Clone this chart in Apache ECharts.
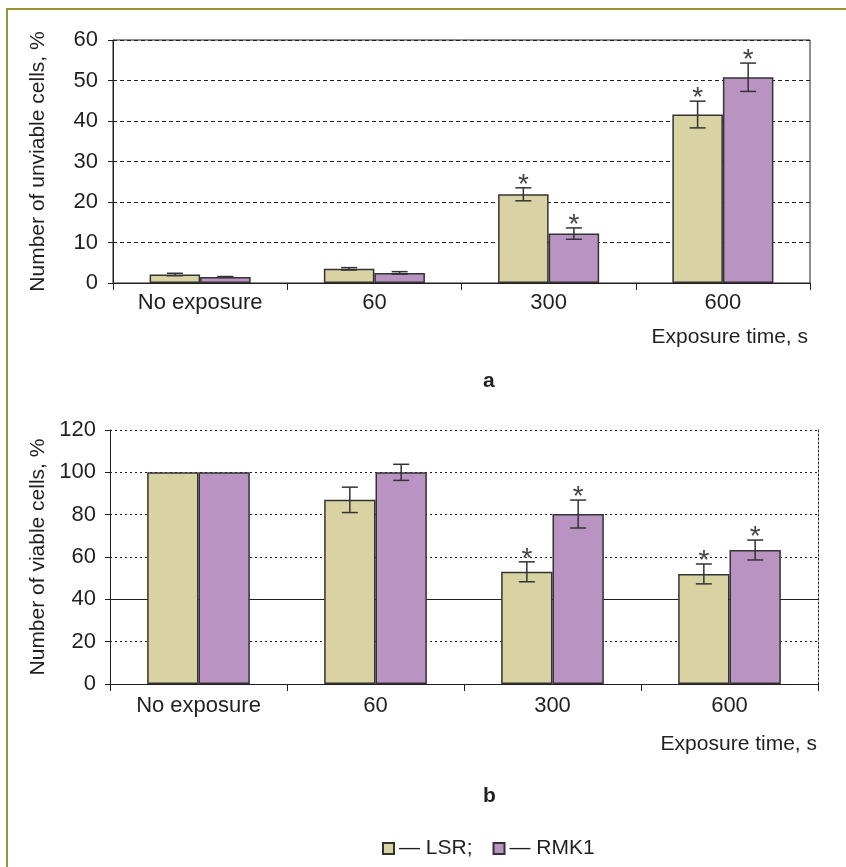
<!DOCTYPE html>
<html>
<head>
<meta charset="utf-8">
<script src="https://cdn.jsdelivr.net/npm/echarts@6/dist/echarts.min.js"></script>
<style>
  html, body { margin: 0; padding: 0; background: #fff; }
  #main { width: 846px; height: 867px; }
</style>
</head>
<body>
<div id="main"></div>
<script>
// exposure groups
const categories = ['No exposure', '60', '300', '600'];

// panel a: unviable cells, %
const unviableLSR = [2.1, 3.5, 21.9, 41.6];
const unviableLSRErr = [0.3, 0.3, 1.6, 3.3];
const unviableRMK = [1.5, 2.5, 12.2, 50.8];
const unviableRMKErr = [0.1, 0.3, 1.4, 3.5];

// panel b: viable cells, %
const viableLSR = [100, 87, 53, 52];
const viableLSRErr = [0, 6, 4.7, 4.7];
const viableRMK = [100, 100, 80.3, 63.3];
const viableRMKErr = [0, 3.8, 6.6, 4.7];

// significance stars (same groups in both panels)
const starred = [0, 0, 1, 1];

const yTicksA = [0, 60, 10];
const yTicksB = [0, 120, 20];

const ink = '#231f20';
const font = 'Liberation Sans, Arial, sans-serif';
const fs = 21;
const colLSR = '#d9d3a4';
const colRMK = '#b994c2';
const gapPct = 42;

const chart = echarts.init(document.getElementById('main'));

function errSeries(idx, vals, errs, side) {
	return {
		type: 'custom',
		xAxisIndex: idx,
		yAxisIndex: idx,
		z: 4,
		silent: true,
		data: vals.map((v, i) => [i, v - errs[i], v + errs[i], starred[i]]),
		renderItem(params, api) {
			const band = api.size([1, 0])[0];
			const dx = side * band * (1 - gapPct / 100) / 4;
			const hi = api.coord([api.value(0), api.value(2)]);
			const lo = api.coord([api.value(0), api.value(1)]);
			const x = hi[0] + dx;
			const st = { stroke: '#333', lineWidth: 1.5 };
			const kids = [];
			if (api.value(2) > api.value(1)) {
				kids.push({ type: 'line', shape: { x1: x, y1: hi[1], x2: x, y2: lo[1] }, style: st });
				kids.push({ type: 'line', shape: { x1: x - 8, y1: hi[1], x2: x + 8, y2: hi[1] }, style: st });
				kids.push({ type: 'line', shape: { x1: x - 8, y1: lo[1], x2: x + 8, y2: lo[1] }, style: st });
			}
			if (api.value(3)) {
				kids.push({
					type: 'text',
					style: {
						x: x, y: hi[1] - 3, text: '*', fill: '#444',
						font: '28px ' + font, align: 'center', verticalAlign: 'middle'
					}
				});
			}
			return { type: 'group', children: kids };
		}
	};
}

function barSeries(name, idx, vals, color) {
	return {
		name: name,
		type: 'bar',
		xAxisIndex: idx,
		yAxisIndex: idx,
		data: vals,
		barGap: '0%',
		barCategoryGap: gapPct + '%',
		itemStyle: { color: color, borderColor: '#333', borderWidth: 1.5 },
		z: 2
	};
}

const axisLabel = { color: ink, fontSize: 22, fontFamily: font };

const option = {
	animation: false,
	backgroundColor: '#fff',
	graphic: [
		{ type: 'line', shape: { x1: 7, y1: 9, x2: 846, y2: 9 }, style: { stroke: '#9a9436', lineWidth: 2 } },
		{ type: 'line', shape: { x1: 7, y1: 8, x2: 7, y2: 867 }, style: { stroke: '#9a9436', lineWidth: 2 } },
		{ type: 'text', right: 38, top: 327, style: { text: 'Exposure time, s', fill: ink, font: fs + 'px ' + font } },
		{ type: 'text', right: 29, top: 734, style: { text: 'Exposure time, s', fill: ink, font: fs + 'px ' + font } },
		{ type: 'text', left: 483, top: 371, style: { text: 'a', fill: ink, font: 'bold ' + fs + 'px ' + font } },
		{ type: 'text', left: 483, top: 786, style: { text: 'b', fill: ink, font: 'bold ' + fs + 'px ' + font } }
	],
	legend: {
		left: 377,
		top: 833,
		itemWidth: 11,
		itemHeight: 11,
		itemGap: 20,
		icon: 'rect',
		selectedMode: false,
		data: ['LSR', 'RMK1'],
		formatter: n => n === 'LSR' ? '— LSR;' : '— RMK1',
		textStyle: { color: ink, fontSize: fs, fontFamily: font }
	},
	grid: [
		{ left: 113, top: 40, width: 697, height: 243, show: true, borderColor: ink, borderWidth: 1 },
		{ left: 110, top: 430, width: 708, height: 254 }
	],
	xAxis: [
		{
			type: 'category', gridIndex: 0, data: categories,
			axisLine: { lineStyle: { color: ink } },
			axisTick: { show: true, length: 7, lineStyle: { color: ink, width: 1 } },
			axisLabel: Object.assign({ margin: 9 }, axisLabel)
		},
		{
			type: 'category', gridIndex: 1, data: categories,
			axisLine: { lineStyle: { color: ink } },
			axisTick: { show: true, length: 7, lineStyle: { color: ink, width: 1 } },
			axisLabel: Object.assign({ margin: 11 }, axisLabel)
		}
	],
	yAxis: [
		{
			type: 'value', gridIndex: 0, min: yTicksA[0], max: yTicksA[1], interval: yTicksA[2],
			name: 'Number of unviable cells, %', nameLocation: 'middle', nameGap: 64,
			nameTextStyle: { color: ink, fontSize: fs, fontFamily: font },
			axisLine: { show: true, lineStyle: { color: ink } },
			axisTick: { show: true, length: 5, lineStyle: { color: ink } },
			axisLabel: Object.assign({ margin: 15 }, axisLabel),
			splitLine: { lineStyle: { color: ink, type: [4, 3], width: 1 } }
		},
		{
			type: 'value', gridIndex: 1, min: yTicksB[0], max: yTicksB[1], interval: yTicksB[2],
			name: 'Number of viable cells, %', nameLocation: 'middle', nameGap: 61,
			nameTextStyle: { color: ink, fontSize: fs, fontFamily: font },
			axisLine: { show: true, lineStyle: { color: ink } },
			axisTick: { show: true, length: 5, lineStyle: { color: ink } },
			axisLabel: Object.assign({ margin: 14 }, axisLabel),
			splitLine: { lineStyle: { color: ink, type: [2, 3], width: 1 } }
		},
		{
			// dotted right border of panel b
			type: 'value', gridIndex: 1, position: 'right', min: yTicksB[0], max: yTicksB[1],
			axisLine: { show: true, lineStyle: { color: ink, type: [2, 2] } },
			axisTick: { show: false }, axisLabel: { show: false }, splitLine: { show: false }
		}
	],
	series: [
		barSeries('LSR', 0, unviableLSR, colLSR),
		barSeries('RMK1', 0, unviableRMK, colRMK),
		Object.assign(barSeries('LSR', 1, viableLSR, colLSR), {
			markLine: {
				silent: true, symbol: 'none', z: 1,
				label: { show: false },
				lineStyle: { color: ink, type: 'solid', width: 1 },
				data: [{ yAxis: 40 }]
			}
		}),
		barSeries('RMK1', 1, viableRMK, colRMK),
		errSeries(0, unviableLSR, unviableLSRErr, -1),
		errSeries(0, unviableRMK, unviableRMKErr, 1),
		errSeries(1, viableLSR, viableLSRErr, -1),
		errSeries(1, viableRMK, viableRMKErr, 1)
	]
};

chart.setOption(option);
</script>
</body>
</html>
